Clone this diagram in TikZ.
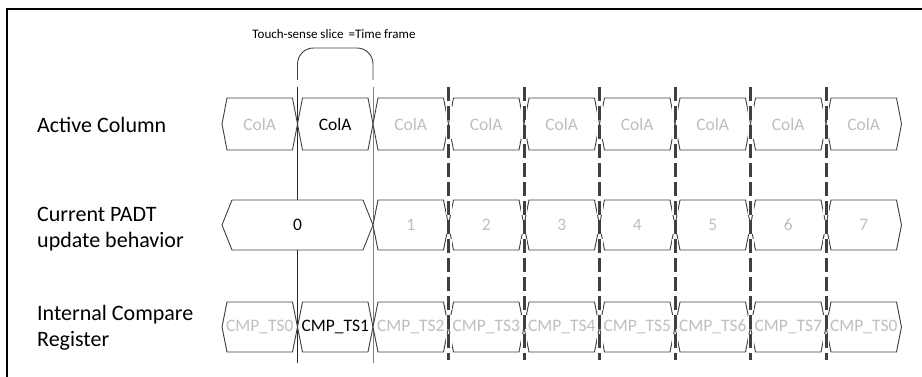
\documentclass[tikz,border=0pt]{standalone}
\usepackage{fontspec}
\setmainfont{Carlito}
\definecolor{edge}{HTML}{404040}
\definecolor{faint}{HTML}{BFBFBF}
\newcommand\hexa[5]{% #1 left, #2 right, #3 depth, #4 centre y, #5 half height
  \draw[hexline] (#1,#4) -- ({#1+#3},{#4-#5}) -- ({#2-#3},{#4-#5}) -- (#2,#4)
    -- ({#2-#3},{#4+#5}) -- ({#1+#3},{#4+#5}) -- cycle;}
\begin{document}
\begin{tikzpicture}[x=1pt,y=-1pt,
  hexline/.style={draw=edge,fill=white,line width=0.9pt,line join=miter},
  slottext/.style={inner sep=0pt,font=\fontsize{17.5}{20}\selectfont},
  rowlabel/.style={anchor=west,align=left,inner sep=0pt,font=\fontsize{22}{26}\selectfont},
  framel/.style={draw=black,line width=1.3pt},
  marker/.style={line width=3pt,draw=edge,dash pattern=on 14pt off 5pt,
     preaction={draw=white,line width=6pt,dash pattern=on 14pt off 5pt}},
  slicedark/.style={draw=black!85,line width=1pt},
  slicelight/.style={draw=black!50,line width=1pt}]
\useasboundingbox (0,0) rectangle (922,377);
% frame
\coordinate (fb) at (7,377);
\coordinate (fc) at (7,9);
\coordinate (fr) at (922,9);
\draw[framel] (fb) -- (fc) -- (fr);
% row labels
\node[rowlabel] (lab1) at (37,125) {Active Column};
\node[rowlabel] (lab2) at (37,229) {Current PADT\\update behavior};
\node[rowlabel] (lab3) at (37,328) {Internal Compare\\Register};
% title
\node[inner sep=0pt,font=\fontsize{13}{15}\selectfont] (title) at (334,34) {Touch-sense slice \,=Time frame};
% time-frame bracket and slice lines (drawn under the slots)
\coordinate (sla) at (297.5,80);
\coordinate (slb) at (373,80);
\coordinate (sltl) at (297.5,48);
\coordinate (sltr) at (373,48);
\draw[draw=edge,line width=0.9pt,rounded corners=16pt] (sla) -- (sltl) -- (sltr) -- (slb);
\coordinate (s1t) at (297.5,87);
\coordinate (s1b) at (297.5,363);
\coordinate (s2t) at (373,87);
\coordinate (s2b) at (373,363);
\draw[slicedark] (s1t) -- (s1b);
\draw[slicelight] (s2t) -- (s2b);
% row 1 : Active Column
\foreach \k in {0,...,8}{
  \pgfmathsetmacro\l{222+75.5*\k}
  \pgfmathsetmacro\r{222+75.5*(\k+1)}
  \hexa{\l}{\r}{5}{124}{26}
}
\foreach \k in {0,...,8}{
  \pgfmathsetmacro\c{259.75+75.5*\k}
  \ifnum\k=1
    \node[slottext,text=black] (ca\k) at (\c,124) {ColA};
  \else
    \node[slottext,text=faint] (ca\k) at (\c,124) {ColA};
  \fi
}
% row 2 : PADT update behaviour
\hexa{222}{373}{10}{225}{25}
\foreach \k in {2,...,8}{
  \pgfmathsetmacro\l{222+75.5*\k}
  \pgfmathsetmacro\r{222+75.5*(\k+1)}
  \hexa{\l}{\r}{5}{225}{25}
}
\node[slottext,text=black] (pd0) at (297.5,225) {0};
\foreach \k in {1,...,7}{
  \pgfmathsetmacro\c{259.75+75.5*(\k+1)}
  \node[slottext,text=faint] (pd\k) at (\c,225) {\k};
}
% row 3 : Internal Compare Register
\foreach \k in {0,...,8}{
  \pgfmathsetmacro\l{222+75.5*\k}
  \pgfmathsetmacro\r{222+75.5*(\k+1)}
  \hexa{\l}{\r}{5}{327}{25}
}
\foreach \k/\t in {0/0,1/1,2/2,3/3,4/4,5/5,6/6,7/7,8/0}{
  \pgfmathsetmacro\c{259.75+75.5*\k}
  \ifnum\k=1
    \node[slottext,text=black] (cr\k) at (\c,327) {CMP\_TS\t};
  \else
    \node[slottext,text=faint] (cr\k) at (\c,327) {CMP\_TS\t};
  \fi
}
% dashed frame markers
\foreach \k in {3,...,8}{
  \pgfmathsetmacro\x{222+75.5*\k}
  \coordinate (m\k t) at (\x,87);
  \coordinate (m\k b) at (\x,360);
  \draw[marker] (m\k t) -- (m\k b);
}
\end{tikzpicture}
\end{document}
